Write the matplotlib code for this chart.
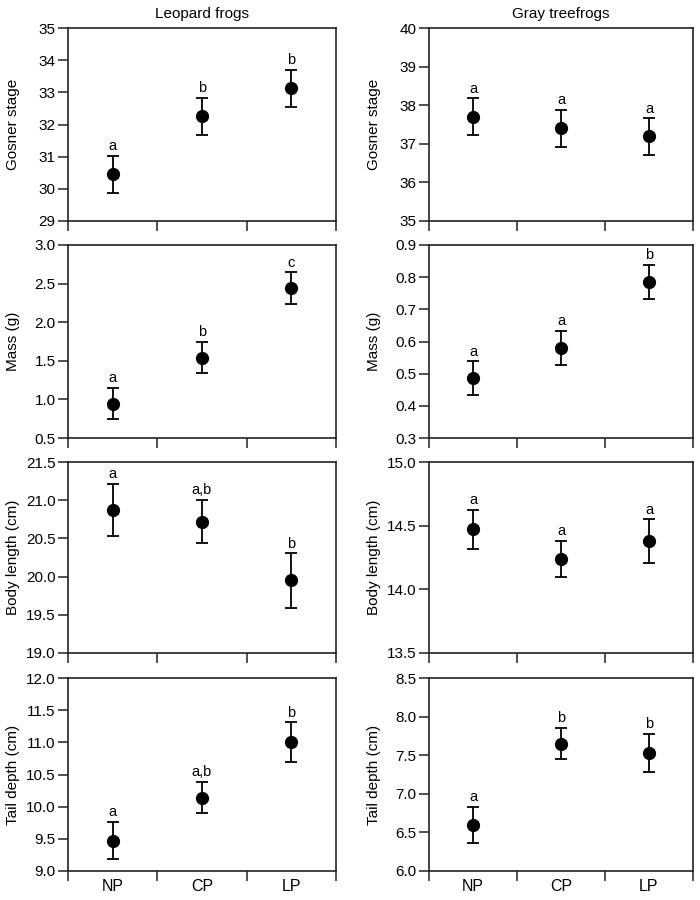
import numpy as np
import matplotlib
matplotlib.use("Agg")
import matplotlib.pyplot as plt

plt.rcParams['font.family'] = ['Liberation Sans', 'DejaVu Sans']

groups = ['NP', 'CP', 'LP']
species = ['Leopard frogs', 'Gray treefrogs']
ylabels = ['Gosner stage', 'Mass (g)', 'Body length (cm)', 'Tail depth (cm)']

# means and +/- error, one row per measure, one value per group
leopard_means = [[30.45, 32.25, 33.12], [0.945, 1.54, 2.44],
                 [20.87, 20.72, 19.95], [9.47, 10.14, 11.00]]
leopard_err   = [[0.57, 0.57, 0.57], [0.20, 0.20, 0.205],
                 [0.34, 0.28, 0.355], [0.29, 0.24, 0.31]]
leopard_letters = [['a', 'b', 'b'], ['a', 'b', 'c'],
                   ['a', 'a,b', 'b'], ['a', 'a,b', 'b']]

gray_means = [[37.70, 37.40, 37.19], [0.486, 0.580, 0.785],
              [14.47, 14.24, 14.38], [6.60, 7.65, 7.53]]
gray_err   = [[0.475, 0.475, 0.47], [0.052, 0.052, 0.052],
              [0.155, 0.14, 0.17], [0.235, 0.205, 0.245]]
gray_letters = [['a', 'a', 'a'], ['a', 'a', 'b'],
                ['a', 'a', 'a'], ['a', 'b', 'b']]

leopard_ylims = [(29, 35), (0.5, 3.0), (19.0, 21.5), (9.0, 12.0)]
leopard_yticks = [np.arange(29, 35.1, 1), np.arange(0.5, 3.01, 0.5),
                  np.arange(19.0, 21.51, 0.5), np.arange(9.0, 12.01, 0.5)]
gray_ylims = [(35, 40), (0.3, 0.9), (13.5, 15.0), (6.0, 8.5)]
gray_yticks = [np.arange(35, 40.1, 1), np.arange(0.3, 0.91, 0.1),
               np.arange(13.5, 15.01, 0.5), np.arange(6.0, 8.51, 0.5)]
ytick_fmt = ['{:.0f}', '{:.1f}', '{:.1f}', '{:.1f}']

fig = plt.figure(figsize=(7, 9), dpi=100)

# panel edges in pixels
col_x = [(68, 336), (429, 693)]
row_y = [(28, 221), (245, 438), (462, 653), (678, 871)]

all_means = [leopard_means, gray_means]
all_err = [leopard_err, gray_err]
all_letters = [leopard_letters, gray_letters]
all_ylims = [leopard_ylims, gray_ylims]
all_yticks = [leopard_yticks, gray_yticks]

x = np.arange(len(groups)) + 0.5
tick_col = '#222222'

for c in range(2):
    for r in range(4):
        x0, x1 = col_x[c]
        y0, y1 = row_y[r]
        ax = fig.add_axes([x0 / 700, 1 - y1 / 900, (x1 - x0) / 700, (y1 - y0) / 900])
        m = all_means[c][r]
        e = all_err[c][r]
        ax.errorbar(x, m, yerr=e, fmt='o', color='black', ms=8.5,
                    elinewidth=1.3, capsize=4, capthick=1.3)
        for xi, mi, ei, lab in zip(x, m, e, all_letters[c][r]):
            ax.annotate(lab, (xi, mi + ei), xytext=(0, 2), textcoords='offset points',
                        ha='center', va='bottom', fontsize=10.5)
        ax.set_xlim(0, 3)
        ax.set_ylim(*all_ylims[c][r])
        ax.set_xticks([0, 1, 2, 3])
        ax.set_xticklabels([])
        ax.set_xticks(x, minor=True)
        if r == 3:
            ax.set_xticklabels(groups, minor=True, fontsize=11.5)
        else:
            ax.set_xticklabels([], minor=True)
        ax.tick_params(axis='x', which='major', length=7, width=1.1,
                       direction='out', color=tick_col)
        ax.tick_params(axis='x', which='minor', length=0, pad=6)
        yt = all_yticks[c][r]
        ax.set_yticks(yt)
        ax.set_yticklabels([ytick_fmt[r].format(v) for v in yt], fontsize=11)
        ax.tick_params(axis='y', length=7, width=1.1, direction='out', pad=2,
                       color=tick_col)
        ax.set_ylabel(ylabels[r], fontsize=11)
        ax.yaxis.set_label_coords(-0.18, 0.5)
        for s in ax.spines.values():
            s.set_linewidth(1.2)
            s.set_color(tick_col)
        if r == 0:
            ax.set_title(species[c], fontsize=11, pad=7)

fig.savefig('out.png', dpi=100)
